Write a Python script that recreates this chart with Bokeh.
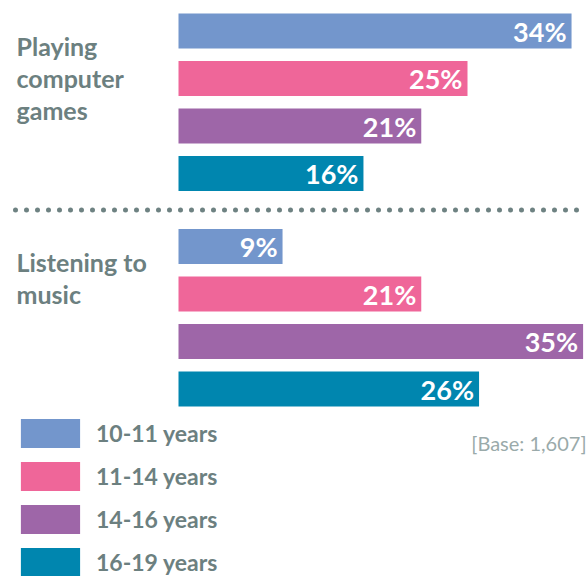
from bokeh.plotting import figure
from bokeh.models import Range1d, ColumnDataSource, Legend, LegendItem, Label
from bokeh.embed import file_html
from bokeh.resources import INLINE
from bokeh.core.properties import value

# ---- data ----
categories = ["Playing\ncomputer\ngames", "Listening to\nmusic"]
age_groups = ["10-11 years", "11-14 years", "14-16 years", "16-19 years"]
pct_10_11 = [34, 9]
pct_11_14 = [25, 21]
pct_14_16 = [21, 35]
pct_16_19 = [16, 26]
base_note = "[Base: 1,607]"

series = [pct_10_11, pct_11_14, pct_14_16, pct_16_19]
colors = ["#7396CC", "#EF6699", "#9E66A8", "#0086AF"]

# ---- layout / style ----
FONT = "Lato"
TEXT_COLOR = "#6C8080"
W, H = 586, 576
PX = 11.56        # pixels per percentage point
X0 = 178          # pixel position of 0%
SLOT = 47.5
GROUP_GAP = 215.5
BAR_H = 35
TOP = 30.5

p = figure(width=W, height=H, output_backend="svg", toolbar_location=None,
           x_range=Range1d(-X0 / PX, (W - X0) / PX),
           y_range=Range1d(H - TOP, -TOP),
           x_axis_location=None, y_axis_location=None,
           min_border=0, outline_line_color=None)
p.xgrid.visible = False
p.ygrid.visible = False
p.background_fill_color = "white"
p.border_fill_color = "white"

items = []
for i, (name, vals, c) in enumerate(zip(age_groups, series, colors)):
    ys = [g * GROUP_GAP + i * SLOT for g in range(len(categories))]
    src = ColumnDataSource(dict(y=ys, v=vals, t=[f"{v}%" for v in vals]))
    r = p.hbar(y="y", left=0, right="v", height=BAR_H, source=src,
               fill_color=c, line_color=None)
    p.text(x="v", y="y", text="t", source=src, text_align="right",
           text_baseline="middle", x_offset=-5, y_offset=0, text_color="white",
           text_font=value(FONT), text_font_style="bold", text_font_size="27px")
    items.append(LegendItem(label=name, renderers=[r]))

# dotted separator between the two groups
y_sep = ((len(series) - 1) * SLOT + GROUP_GAP) / 2
p.line(x=[(15 - X0) / PX, (W - X0) / PX], y=[y_sep, y_sep], line_dash="0 11",
       line_cap="round", line_width=5, line_color="#6E8282")

# category labels
for g, cat in enumerate(categories):
    p.add_layout(Label(x=16, x_units="screen", y=g * GROUP_GAP + 0, y_units="data",
                       text=cat, text_baseline="top", text_align="left",
                       text_font=FONT, text_font_style="bold",
                       text_font_size="25px", text_color=TEXT_COLOR,
                       text_line_height=1.07))

# base note
p.add_layout(Label(x=W, y=134, x_units="screen", y_units="screen", text=base_note,
                   text_align="right", text_baseline="alphabetic",
                   text_font=FONT, text_font_size="20px", text_color="#9AAAAA"))

legend = Legend(items=items, location=(13, -4), orientation="vertical",
                glyph_width=74, glyph_height=36, spacing=7, label_standoff=9,
                padding=0, margin=0, border_line_color=None,
                background_fill_alpha=0, label_text_font=FONT,
                label_text_font_style="bold", label_text_font_size="23px",
                label_text_color=TEXT_COLOR, label_height=36)
p.add_layout(legend)

open("out.html", "w").write(file_html(p, INLINE))
